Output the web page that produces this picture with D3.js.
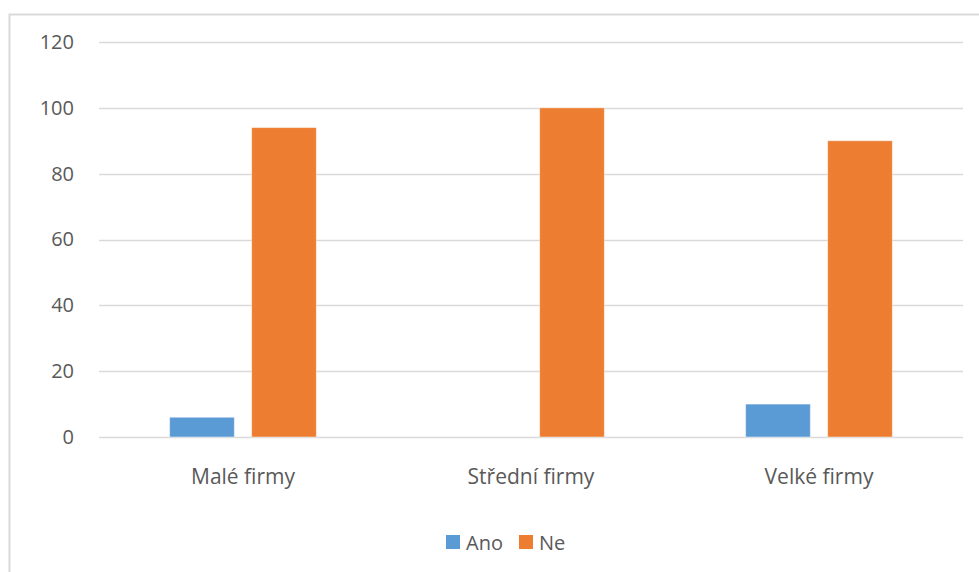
<!DOCTYPE html>
<html>
<head>
<meta charset="utf-8">
<script src="https://cdn.jsdelivr.net/npm/d3@7/dist/d3.min.js"></script>
<style>
  html, body { margin: 0; padding: 0; background: #fff; }
  svg { display: block; }
  text { font-family: "Open Sans", sans-serif; fill: #595959; }
</style>
</head>
<body>
<svg id="chart" width="979" height="572"></svg>
<script>
// Survey answers per company size (percent)
const categories = ["Malé firmy", "Střední firmy", "Velké firmy"];
const seriesNames = ["Ano", "Ne"];
const ano = [6, 0, 10];
const ne = [94, 100, 90];
const yTicks = [0, 20, 40, 60, 80, 100, 120];
const colors = { Ano: "#5B9BD5", Ne: "#ED7D31" };

const svg = d3.select("#chart");
const W = 979, H = 572;

// outer chart frame (only left and top edges fall within the view)
svg.append("rect")
  .attr("x", 9.5).attr("y", 14.5)
  .attr("width", W + 20).attr("height", H + 20)
  .attr("fill", "#fff").attr("stroke", "#D9D9D9").attr("stroke-width", 2);

const plot = { left: 99, right: 963, top: 42, bottom: 437 };

const y = d3.scaleLinear().domain([0, 120]).range([plot.bottom, plot.top]);
const x0 = d3.scaleBand().domain(categories).range([plot.left, plot.right]).padding(0);
const groupWidth = 146.7;
const x1 = d3.scaleBand().domain(seriesNames)
  .range([-groupWidth / 2, groupWidth / 2]).paddingInner(0.211).paddingOuter(0);

// horizontal gridlines
svg.append("g").selectAll("line").data(yTicks).join("line")
  .attr("x1", plot.left).attr("x2", plot.right)
  .attr("y1", d => Math.round(y(d)) + 0.5).attr("y2", d => Math.round(y(d)) + 0.5)
  .attr("stroke", "#D9D9D9").attr("stroke-width", 1.5);

// y-axis labels
const yAxis = d3.axisLeft(y).tickValues(yTicks).tickSize(0).tickPadding(0);
const yg = svg.append("g").attr("transform", `translate(74,0)`).call(yAxis);
yg.select(".domain").remove();
yg.selectAll("text").attr("font-size", 20).attr("fill", "#595959")
  .style("font-family", '"Open Sans", sans-serif');

// bars
const rows = categories.map((c, i) => ({ cat: c, values: [
  { key: "Ano", value: ano[i] }, { key: "Ne", value: ne[i] } ] }));

const groups = svg.append("g").selectAll("g").data(rows).join("g")
  .attr("transform", d => `translate(${x0(d.cat) + x0.bandwidth() / 2},0)`);

groups.selectAll("rect").data(d => d.values.filter(v => v.value > 0)).join("rect")
  .attr("x", d => x1(d.key))
  .attr("width", x1.bandwidth())
  .attr("y", d => y(d.value))
  .attr("height", d => y(0) - y(d.value))
  .attr("fill", d => colors[d.key])
  .attr("stroke", "#fff").attr("stroke-opacity", 0.45).attr("stroke-width", 1);

// category labels
const xAxis = d3.axisBottom(x0).tickSize(0).tickPadding(0);
const xg = svg.append("g").attr("transform", `translate(0,469)`).call(xAxis);
xg.select(".domain").remove();
xg.selectAll("text").attr("font-size", 21).attr("fill", "#595959")
  .attr("dy", "0.71em")
  .style("font-family", '"Open Sans", sans-serif');

// legend
const legend = svg.append("g");
const legendItems = [
  { key: "Ano", x: 446 },
  { key: "Ne", x: 519 }
];
legendItems.forEach(item => {
  legend.append("rect")
    .attr("x", item.x).attr("y", 535)
    .attr("width", 14).attr("height", 14)
    .attr("fill", colors[item.key]);
  legend.append("text")
    .attr("x", item.x + 20).attr("y", 550)
    .attr("font-size", 20)
    .text(item.key);
});
</script>
</body>
</html>
